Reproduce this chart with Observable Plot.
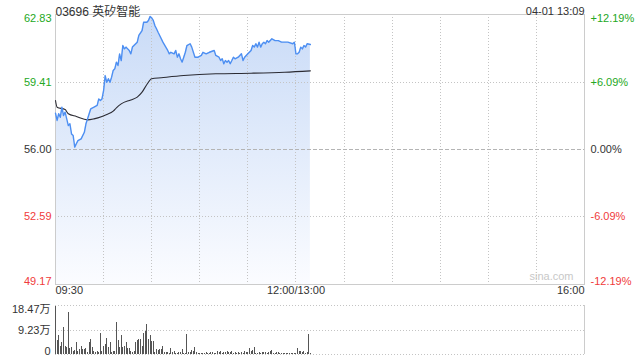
<!DOCTYPE html>
<html><head><meta charset="utf-8">
<script src="https://cdn.jsdelivr.net/npm/d3@7"></script>
<script src="https://cdn.jsdelivr.net/npm/@observablehq/plot@0.6"></script>
<style>
body{margin:0;background:#fff;}
#wrap{position:relative;width:640px;height:360px;overflow:hidden;}
#main,#vol{position:absolute;left:0;}
#main{top:0}
#vol{top:300px}
</style></head><body><div id="wrap"><div id="main"></div><div id="vol"></div></div>
<script>
const title = "03696 英矽智能";
const stamp = "04-01 13:09";
const prevClose = 56.00;
const priceTicks = [62.83, 59.41, 56.00, 52.59, 49.17];
const pctTicks = ["+12.19%", "+6.09%", "0.00%", "-6.09%", "-12.19%"];
const timeTicks = [0, 150, 330];
const timeLabels = ["09:30", "12:00/13:00", "16:00"];
const volTicks = [18.47, 9.23, 0];
const volLabels = ["18.47万", "9.23万", "0"];
const watermark = "sina.com";

// minutes since 09:30 (trading minutes; 12:00 == 13:00 at 150)
const priceMin = [0,1,2,3,4,5,6,7,8,9,10,11,12,13,14,16,18,19,20,21,22,24,26,27,28,29,30,31,32,33,34,35,36,37,38,39,40,41,42,43,44,46,47,48,51,52,54,55,57,58,59,60,61,62,63,64,65,67,70,71,72,74,75,76,77,78,79,80,81,82,84,85,86,87,89,91,92,94,96,99,100,102,103,104,105,106,107,108,109,110,111,112,114,116,117,118,120,122,123,124,125,126,127,128,129,130,131,132,133,135,137,139,141,143,145,148,149,150,151,152,153,154,155,156,157,159];
const priceVal = [57.84,57.47,57.81,57.63,58.14,57.72,57.89,57.55,57.21,57.30,56.79,56.71,56.12,56.29,56.45,56.54,56.87,57.30,57.55,57.81,58.06,58.14,58.23,58.56,58.48,58.56,58.98,59.74,59.40,59.58,59.40,59.66,60.00,60.08,60.42,60.25,60.84,60.50,61.26,61.09,61.18,61.01,60.84,61.18,61.43,61.77,62.02,62.44,62.44,62.53,62.73,62.66,62.53,62.27,62.11,61.93,61.77,61.43,61.01,60.84,60.92,60.84,61.01,60.67,60.84,60.59,60.42,60.67,60.92,61.26,61.35,61.18,60.92,60.67,60.67,60.76,60.92,60.84,60.92,61.01,60.76,60.67,60.50,60.59,60.34,60.50,60.42,60.50,60.34,60.50,60.67,60.59,60.67,60.84,60.50,60.67,60.84,61.01,61.26,61.18,61.35,61.18,61.43,61.18,61.35,61.43,61.35,61.51,61.43,61.60,61.51,61.51,61.43,61.43,61.43,61.35,61.43,60.84,60.84,60.92,61.18,61.09,61.26,61.18,61.35,61.31];
const avgMin = [0,1,6,8,13,20,24,29,32,36,38,41,47,51,54,57,60,66,80,100,122,143,159];
const avgVal = [58.48,58.14,58.02,57.81,57.67,57.50,57.55,57.67,57.77,57.94,58.11,58.31,58.51,58.65,58.90,59.29,59.58,59.63,59.74,59.83,59.86,59.91,59.98];
// volume per minute (万)
const volume = [18.1,5.1,7.2,3.1,4.6,10.2,3.1,2.6,15.8,
2.2,2.6,1.0,1.4,4.6,1.0,1.9,3.1,1.9,2.0,2.2,0.9,4.6,5.7,2.6,1.0,0.7,1.1,0.6,8.0,1.2,3.1,3.9,6.1,2.6,4.6,0.8,1.0,1.0,12.1,
5.1,2.5,7.2,2.6,3.2,4.4,2.1,2.1,1.2,0.9,1.2,4.4,5.1,5.7,5.7,3.0,7.9,8.7,11.4,
5.7,7.2,5.0,5.0,0.7,1.9,1.6,1.9,1.9,3.1,0.6,0.6,0.7,0.4,2.2,0.6,1.2,0.4,0.3,0.6,0.6,1.9,0.4,0.4,7.6,
0.7,0.7,1.6,1.0,2.6,0.6,0.25,0.25,0.25,0.3,
0.4,0.6,0.4,0.4,0.7,0.6,0.5,0.4,1.0,0.7,
1.0,0.4,0.7,0.6,1.0,0.6,0.7,1.0,0.5,0.7,
0.4,0.6,0.4,0.7,0.4,1.2,0.6,0.6,2.2,1.0,
1.6,2.6,0.4,0.5,0.6,0.4,0.7,0.7,0.6,0.4,
0.6,1.0,1.6,0.4,0.3,0.7,0.6,0.4,0.4,0.25,
0.4,0.4,0.25,0.4,0.25,0.4,0.3,0.3,2.2,1.2,
1.0,0.6,1.0,0.4,0.6,7.6,0.4];

const FONT = '"Liberation Sans", Arial, "Noto Sans CJK SC", sans-serif';
const GREEN = "#23a823", RED = "#f03b3b", INK = "#333";
const GRID = "#c4c4c4";
const col = p => p > prevClose ? GREEN : p < prevClose ? RED : INK;
const yMin = d3.min(priceTicks), yMax = d3.max(priceTicks);

const priceData = priceMin.map((m, i) => ({m, p: priceVal[i]}));
const avgData = avgMin.map((m, i) => ({m, p: avgVal[i]}));
const tickData = priceTicks.map((p, i) => ({p, pct: pctTicks[i], i}));
const n = priceTicks.length;
const anchorOf = (i, len) => i === 0 ? "top" : i === len - 1 ? "bottom" : "middle";

function defs() {
  const ns = "http://www.w3.org/2000/svg";
  const d = document.createElementNS(ns, "defs");
  d.innerHTML = '<linearGradient id="fillGrad" x1="0" y1="0" x2="0" y2="1"><stop offset="0" stop-color="#c9dbf7"/><stop offset="1" stop-color="#fbfcff"/></linearGradient>';
  return d;
}

const priceLabelMarks = ["top", "middle", "bottom"].flatMap(a => {
  const sub = tickData.filter(d => anchorOf(d.i, n) === a);
  return [
    Plot.text(sub, {y: "p", text: d => d.p.toFixed(2), frameAnchor: "left", textAnchor: "end", dx: -4, lineAnchor: a, fill: d => col(d.p)}),
    Plot.text(sub, {y: "p", text: "pct", frameAnchor: "right", textAnchor: "start", dx: 6, lineAnchor: a, fill: d => col(d.p)})
  ];
});
const anchors = ["start", "middle", "end"];
const timeMarks = timeTicks.map((t, i) => Plot.text([t], {x: d => d, text: [timeLabels[i]], frameAnchor: "bottom", dy: 9, textAnchor: anchors[i], fill: INK}));

const main = Plot.plot({
  width: 640, height: 300,
  marginLeft: 55, marginRight: 56, marginTop: 14, marginBottom: 16,
  x: {domain: [0, 330], axis: null},
  y: {domain: [yMin, yMax], axis: null},
  style: {fontFamily: FONT, fontSize: "11px", background: "#fff", overflow: "visible"},
  marks: [
    defs,
    Plot.areaY(priceData, {x: "m", y1: yMin, y2: "p", fill: "url(#fillGrad)"}),
    Plot.ruleX(d3.range(30, 330, 30), {stroke: GRID, strokeDasharray: "1,2", shapeRendering: "crispEdges"}),
    Plot.ruleY(priceTicks.filter(p => p !== prevClose && p !== yMin && p !== yMax), {stroke: GRID, strokeDasharray: "1,2", shapeRendering: "crispEdges"}),
    Plot.ruleY([prevClose], {stroke: "#b4b4b4", strokeDasharray: "4,2", shapeRendering: "crispEdges"}),
    Plot.frame({stroke: "#ccc", shapeRendering: "crispEdges"}),
    Plot.line(avgData, {x: "m", y: "p", stroke: "#2b2b33", strokeWidth: 1.1, curve: "monotone-x"}),
    Plot.line(priceData, {x: "m", y: "p", stroke: "#4d8ff2", strokeWidth: 1.4}),
    ...priceLabelMarks,
    ...timeMarks,
    Plot.text([title], {frameAnchor: "top-left", dy: -7, textAnchor: "start", fontSize: 12, fill: INK}),
    Plot.text([stamp], {frameAnchor: "top-right", dy: -7, textAnchor: "end", fontSize: 11, fill: INK}),
    Plot.text([watermark], {frameAnchor: "bottom-right", dx: -11, dy: -5, textAnchor: "end", fill: "#c8c8c8", fontSize: 11})
  ]
});
document.getElementById("main").append(main);

const volData = volume.map((v, i) => ({m: i, v}));
const volTickData = volTicks.map((v, i) => ({v, label: volLabels[i], i}));
const volLabelMarks = ["top", "middle", "bottom"].map(a =>
  Plot.text(volTickData.filter(d => anchorOf(d.i, volTicks.length) === a), {y: "v", text: "label", frameAnchor: "left", textAnchor: "end", dx: -5, lineAnchor: a, fill: INK})
);
const vol = Plot.plot({
  width: 640, height: 60,
  marginLeft: 55, marginRight: 56, marginTop: 5, marginBottom: 6,
  x: {domain: [0, 330], axis: null},
  y: {domain: [0, d3.max(volTicks)], axis: null},
  style: {fontFamily: FONT, fontSize: "11px", background: "#fff", overflow: "visible"},
  marks: [
    Plot.ruleY(volTicks, {stroke: GRID, strokeDasharray: "1,2", shapeRendering: "crispEdges"}),
    Plot.ruleX([0, 330], {stroke: "#ccc", shapeRendering: "crispEdges"}),
    Plot.ruleX(volData, {x: "m", y1: 0, y2: "v", stroke: "#555", shapeRendering: "crispEdges"}),
    ...volLabelMarks
  ]
});
document.getElementById("vol").append(vol);
</script></body></html>
